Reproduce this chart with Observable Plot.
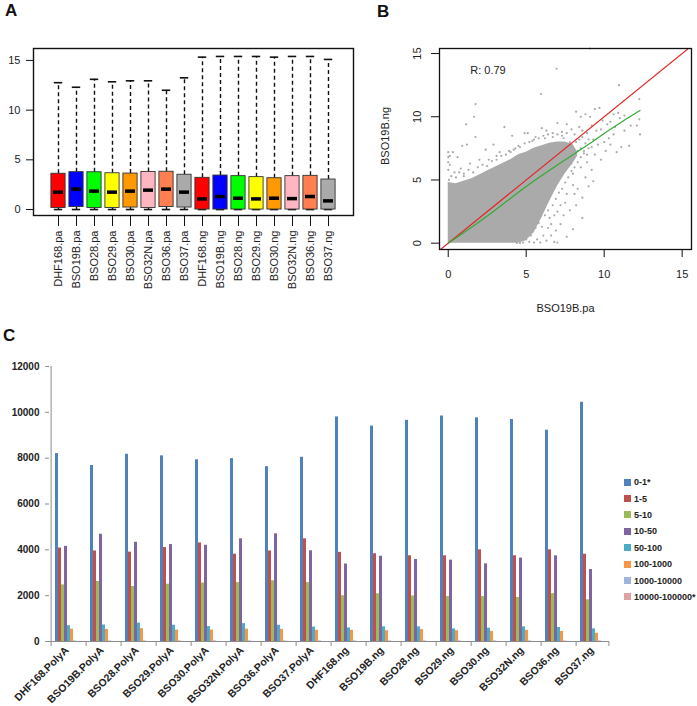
<!DOCTYPE html>
<html><head><meta charset="utf-8">
<script src="https://cdn.jsdelivr.net/npm/d3@7"></script>
<script src="https://cdn.jsdelivr.net/npm/@observablehq/plot@0.6"></script>
<style>
html,body{margin:0;padding:0;background:#fff;}
#root{position:relative;width:697px;height:706px;overflow:hidden;font-family:"Liberation Sans",Arial,sans-serif;color:#222;}
.panel{position:absolute;}
.plabel{position:absolute;font-weight:bold;font-size:17px;line-height:17px;color:#111;}
#legend{position:absolute;left:624px;top:474px;font-size:9px;font-weight:bold;color:#222;}
.li{height:16.4px;display:flex;align-items:center;white-space:nowrap;}
.sw{width:7px;height:7px;margin-right:3px;flex:none;}
</style></head>
<body><div id="root">
<div class="plabel" style="left:5px;top:2px;">A</div>
<div class="plabel" style="left:377px;top:3px;">B</div>
<div class="plabel" style="left:3px;top:327px;">C</div>
<div id="pa" class="panel" style="left:0;top:0;"></div>
<div id="pb" class="panel" style="left:360px;top:0;"></div>
<div id="pc" class="panel" style="left:0;top:330px;"></div>
<div id="legend"></div>
</div>
<script>
// ---------- Panel A: boxplots ----------
const samplesA = ["DHF168.pa","BSO19B.pa","BSO28.pa","BSO29.pa","BSO30.pa","BSO32N.pa","BSO36.pa","BSO37.pa",
  "DHF168.ng","BSO19B.ng","BSO28.ng","BSO29.ng","BSO30.ng","BSO32N.ng","BSO36.ng","BSO37.ng"];
const boxColorsA = ["#ff0000","#0000ff","#00ff00","#ffff00","#ff9900","#ffb6c1","#ff7f50","#aaaaaa",
  "#ff0000","#0000ff","#00ff00","#ffff00","#ff9900","#ffb6c1","#ff7f50","#aaaaaa"];
const lowA = [0,0,0,0,0,0,0,0, 0,0,0,0,0,0,0,0];
const q1A  = [0.15,0.25,0.15,0.15,0.2,0.15,0.25,0.2, 0,0,0,0,0,0,0,0];
const medA = [1.75,2.05,1.85,1.75,1.85,1.95,2.05,1.75, 1.07,1.31,1.14,1.07,1.14,1.1,1.31,0.87];
const q3A  = [3.6,3.76,3.75,3.65,3.62,3.78,3.8,3.5, 3.19,3.42,3.36,3.26,3.15,3.36,3.39,3.02];
const highA = [12.76,12.3,13.1,12.85,12.95,12.95,12.0,13.25, 15.33,15.4,15.4,15.4,15.33,15.4,15.4,15.1];
const yTicksA = [0,5,10,15];

// ---------- Panel B: scatter ----------
const cloudX  = [0,0.5,1,1.5,2,2.5,3,3.5,4,4.5,5,5.5,6,6.5,7,7.5,8,8.3];
const cloudLo = [0,0,0,0,0,0,0,0,0,0,0.2,0.8,2.0,3.3,4.5,5.5,6.3,6.9];
const cloudHi = [4.8,4.7,4.9,5.1,5.4,5.7,6.0,6.3,6.6,7.0,7.2,7.5,7.7,7.9,8.0,8.0,7.8,7.2];
const scatterX = [9.1,6.95,5.95,1.75,1.65,1.15,10.95,12.25,12.25,12.3,11.6,10.8,11.1,8.6,8.0,7.0,6.8,3.6,4.1,4.9,5.1,1.2,1.75,0.9,0.6,0.3,0,0,0.1,2.4,2.9,3.3,9.7,9.4,8.2,8.8,8.5,11.3,11.0,10.9,10.4,10.2,10.7,9.9,9.8,9.5,9.2,8.9,8.6,8.4,8.1,7.9,7.6,7.3,7.0,6.7,6.3,6.0,5.6,9.3,9.6,10.0,10.3,9.0,8.7,9.4,9.8,10.1,8.9,8.5,9.2,8.8,9.3,9.0,8.3,8.6,8.1,7.8,8.2,7.5,7.4,7.2,6.9,6.6,7.6,6.3,5.9,5.5,5.2,4.8,10.4,10.6,11.3,11.7,8.0,8.3,7.7,7.9,8.4,7.8,6.2,5.4,4.5,3.9,2.0,1.4,0.8,0.4,1.0,2.6,3.1,4.2,10.6,9.1,7.4,12.1,
  0.2,0.5,0.7,1.0,1.3,1.6,1.9,2.2,2.5,2.8,3.1,3.4,3.7,4.0,4.3,4.6,4.9,5.2,5.5,5.8,6.1,6.4,6.7,7.0,7.3,7.6,0.0,0.0,0.05,0.1,
  5.0,5.3,5.6,5.8,6.0,6.2,6.4,6.5,6.7,6.9,7.1,7.3,7.5,7.7,7.9,8.1,8.3,8.5,8.7,8.0,7.6,7.2,6.8,6.4,6.1,5.7,4.6,4.4,6.6,7.0,
  8.5,8.8,9.0,8.6,8.2,8.0,8.9,9.2];
const scatterY = [15.4,13.8,11.8,11.0,10.0,9.4,12.5,11.4,9.8,8.6,7.7,7.2,7.6,2.0,1.1,0.05,0.1,9.2,8.5,8.7,8.7,7.8,8.4,7.7,6.8,7.2,7.2,6.8,6.2,7.4,7.8,7.2,10.7,10.6,10.4,10.2,10.0,10.1,9.9,10.3,9.6,9.4,9.2,9.7,9.0,8.9,9.3,8.7,8.9,9.2,8.6,9.0,9.4,8.8,9.5,8.7,8.9,9.1,8.4,8.2,7.8,8.0,8.3,7.5,7.1,7.0,6.6,7.3,6.4,6.0,5.8,5.2,4.9,4.5,4.3,3.6,3.9,2.6,3.0,3.2,2.2,1.5,1.0,0.6,0.5,0.2,0.05,0.05,0.1,0.05,7.8,8.6,8.9,9.3,5.5,7.3,7.0,6.3,8.2,8.0,8.3,8.1,7.7,7.3,6.6,6.3,5.9,5.6,5.3,6.6,6.9,7.4,10.2,10.0,8.3,9.3,
  5.3,5.2,5.6,5.5,5.8,5.6,6.0,6.2,6.1,6.5,6.6,6.9,7.0,7.2,7.5,7.6,7.9,8.0,8.2,8.3,8.5,8.6,8.4,8.6,8.5,8.7,5.8,6.4,5.0,6.9,
  0.3,0.6,1.2,1.6,1.3,2.2,2.6,2.0,3.0,3.5,4.0,4.3,4.8,5.2,5.7,6.0,6.4,6.8,7.3,4.6,3.9,3.0,2.2,1.2,0.6,0.3,0.02,0.02,1.5,2.5,
  7.5,7.9,8.2,8.4,8.0,7.6,7.0,7.6];
const lowessX = [0,0.5,1,1.5,2,3,4,5,6,7,8,9,10,11,12.3];
const lowessY = [0,0.4,0.85,1.25,1.7,2.6,3.55,4.5,5.35,6.2,7.0,7.8,8.7,9.5,10.5];
const identityLine = [-1, 17];
const ticksB = [0,5,10,15];

// ---------- Panel C: grouped bars ----------
const groupsC = ["DHF168.PolyA","BSO19B.PolyA","BSO28.PolyA","BSO29.PolyA","BSO30.PolyA","BSO32N.PolyA","BSO36.PolyA","BSO37.PolyA",
  "DHF168.ng","BSO19B.ng","BSO28.ng","BSO29.ng","BSO30.ng","BSO32N.ng","BSO36.ng","BSO37.ng"];
const binsC = ["0-1*","1-5","5-10","10-50","50-100","100-1000","1000-10000","10000-100000*"];
const colorsC = ["#4f81bd","#c0504d","#9bbb59","#8064a2","#4bacc6","#f79646","#9db4dc","#e0a3a1"];
const bin0_1   = [8200,7680,8170,8100,7930,7980,7630,8040, 9800,9400,9650,9840,9760,9690,9220,10440];
const bin1_5   = [4080,3950,3900,4100,4300,3810,3950,4480, 3890,3830,3740,3740,4000,3740,4000,3810];
const bin5_10  = [2470,2620,2400,2500,2550,2570,2650,2570, 2000,2080,1990,1960,1960,1920,2090,1820];
const bin10_50 = [4150,4680,4330,4230,4200,4480,4700,3960, 3380,3720,3580,3550,3390,3640,3740,3140];
const bin50_100 = [690,720,800,710,650,780,710,630, 590,640,640,550,580,640,610,550];
const bin100_1000 = [540,530,560,500,500,540,530,490, 490,470,520,470,440,490,440,360];
const bin1000_10000 = [25,25,25,25,25,25,25,25, 25,25,25,25,25,25,25,25];
const bin10000_100000 = [4,4,4,4,4,4,4,4, 4,4,4,4,4,4,4,4];
const yTicksC = [0,2000,4000,6000,8000,10000,12000];

const fontR = "Liberation Sans, Arial, sans-serif";

// ---- build A
const rowsA = samplesA.map((s,i)=>({sample:s,color:boxColorsA[i],lo:lowA[i],q1:q1A[i],med:medA[i],q3:q3A[i],hi:highA[i]}));
const plotA = Plot.plot({
  width: 360, height: 300, marginLeft: 33, marginRight: 7, marginTop: 48, marginBottom: 85,
  style: {fontFamily: fontR, fontSize: "11px", color: "#222", background: "transparent", overflow: "visible"},
  x: {domain: samplesA, paddingInner: 0, paddingOuter: 0.64, label: null},
  y: {domain: [-0.6, 16.2], label: null},
  marks: [
    Plot.ruleX(rowsA, {x: "sample", y1: "q3", y2: "hi", stroke: "#111", strokeWidth: 1.4, strokeDasharray: "4,3"}),
    Plot.ruleX(rowsA, {x: "sample", y1: "lo", y2: "q1", stroke: "#111", strokeWidth: 1.4, strokeDasharray: "4,3"}),
    Plot.tickY(rowsA, {x: "sample", y: "hi", stroke: "#111", strokeWidth: 1.6, insetLeft: 4.8, insetRight: 4.8}),
    Plot.tickY(rowsA, {x: "sample", y: "lo", stroke: "#111", strokeWidth: 1.6, insetLeft: 4.8, insetRight: 4.8}),
    Plot.barY(rowsA, {x: "sample", y1: "q1", y2: "q3", fill: "color", stroke: "#333", strokeWidth: 0.9, insetLeft: 1.9, insetRight: 1.9}),
    Plot.tickY(rowsA, {x: "sample", y: "med", stroke: "#000", strokeWidth: 3.5, insetLeft: 4, insetRight: 4}),
    Plot.frame({stroke: "#111", strokeWidth: 1.4}),
    Plot.axisY({ticks: yTicksA, tickSize: 7, tickPadding: 6, label: null, stroke: "#111"}),
    Plot.axisX({tickRotate: -90, tickSize: 11, tickPadding: 4, label: null, stroke: "#111"})
  ]
});
document.getElementById("pa").append(plotA);

// ---- build B
const cloud = cloudX.map((x,i)=>({x, lo: cloudLo[i], hi: cloudHi[i]}));
const scatter = scatterX.map((x,i)=>({x, y: scatterY[i]}));
const lowess = lowessX.map((x,i)=>({x, y: lowessY[i]}));
const plotB = Plot.plot({
  width: 337, height: 325, marginLeft: 79, marginRight: 6, marginTop: 48, marginBottom: 76,
  style: {fontFamily: fontR, fontSize: "11px", color: "#222", background: "transparent", overflow: "visible"},
  x: {domain: [-0.56, 15.6], label: null},
  y: {domain: [-0.5, 15.4], label: null},
  marks: [
    Plot.areaY(cloud, {x: "x", y1: "lo", y2: "hi", fill: "#aaaaaa"}),
    Plot.dot(scatter, {x: "x", y: "y", r: 1.1, fill: "#aaaaaa"}),
    Plot.line(identityLine, {x: d => d, y: d => d, stroke: "#e02a2a", strokeWidth: 1.2, clip: true}),
    Plot.line(lowess, {x: "x", y: "y", stroke: "#33aa33", strokeWidth: 1.2, curve: "basis"}),
    Plot.text(["R: 0.79"], {x: [2.55], y: [13.7], fontSize: 11}),
    Plot.frame({stroke: "#111", strokeWidth: 1.3}),
    Plot.axisX({ticks: ticksB, tickSize: 8, tickPadding: 13, label: null, stroke: "#111"}),
    Plot.axisY({ticks: ticksB, tickSize: 8, tickFormat: () => "", label: null, stroke: "#111"}),
    Plot.text(ticksB, {y: d => d, text: d => String(d), frameAnchor: "left", textAnchor: "middle", dx: -22, rotate: -90, fontSize: 11}),
    Plot.text(["BSO19B.ng"], {frameAnchor: "left", textAnchor: "middle", dx: -54, dy: -13, rotate: -90, fontSize: 11}),
    Plot.text(["BSO19B.pa"], {frameAnchor: "bottom", dy: 62, fontSize: 11})
  ]
});
document.getElementById("pb").append(plotB);

// ---- build C
const valuesC = [bin0_1, bin1_5, bin5_10, bin10_50, bin50_100, bin100_1000, bin1000_10000, bin10000_100000];
const rowsC = [];
groupsC.forEach((g,i) => binsC.forEach((b,j) => rowsC.push({group: g, bin: b, value: valuesC[j][i], color: colorsC[j]})));
const mL = 44, mR = 84, W = 697, padOuter = 1.23;
const facetW = (W - mL - mR) / groupsC.length;
const stepC = facetW / (binsC.length + 2 * padOuter);
const edgeOff = padOuter * stepC + stepC / 2;   // from first/last band centre to facet edge
const plotC = Plot.plot({
  width: W, height: 376, marginLeft: mL, marginRight: mR, marginTop: 36, marginBottom: 65,
  style: {fontFamily: fontR, fontSize: "10px", color: "#222", background: "transparent", overflow: "visible"},
  fx: {domain: groupsC, padding: 0, label: null},
  x: {domain: binsC, paddingInner: 0, paddingOuter: padOuter, axis: null},
  y: {domain: [0, 12000], label: null},
  marks: [
    Plot.barY(rowsC, {fx: "group", x: "bin", y: "value", fill: "color"}),
    Plot.ruleY([0], {stroke: "#8c8c8c"}),
    Plot.ruleX([groupsC[0]], {fx: d => d, x: () => binsC[0], dx: -edgeOff, stroke: "#8c8c8c"}),
    Plot.ruleX(groupsC, {fx: d => d, x: () => binsC[0], y1: 0, y2: 0, insetBottom: -5, dx: -edgeOff, stroke: "#8c8c8c"}),
    Plot.ruleX([groupsC[groupsC.length - 1]], {fx: d => d, x: () => binsC[binsC.length - 1], y1: 0, y2: 0, insetBottom: -5, dx: edgeOff, stroke: "#8c8c8c"}),
    Plot.axisY({ticks: yTicksC, tickSize: 4, tickPadding: 6, label: null, stroke: "#8c8c8c", fill: "#222", fontWeight: "bold", tickFormat: d => String(d)}),
    Plot.axisFx({anchor: "bottom", tickRotate: -45, tickSize: 0, tickPadding: 7, label: null, fontWeight: "bold", fontSize: 10.5, fill: "#222"})
  ]
});
document.getElementById("pc").append(plotC);

// legend
const leg = document.getElementById("legend");
binsC.forEach((b,j) => {
  const row = document.createElement("div"); row.className = "li";
  const sw = document.createElement("span"); sw.className = "sw"; sw.style.background = colorsC[j];
  const tx = document.createElement("span"); tx.textContent = b;
  row.append(sw, tx); leg.append(row);
});
</script>
</body></html>
